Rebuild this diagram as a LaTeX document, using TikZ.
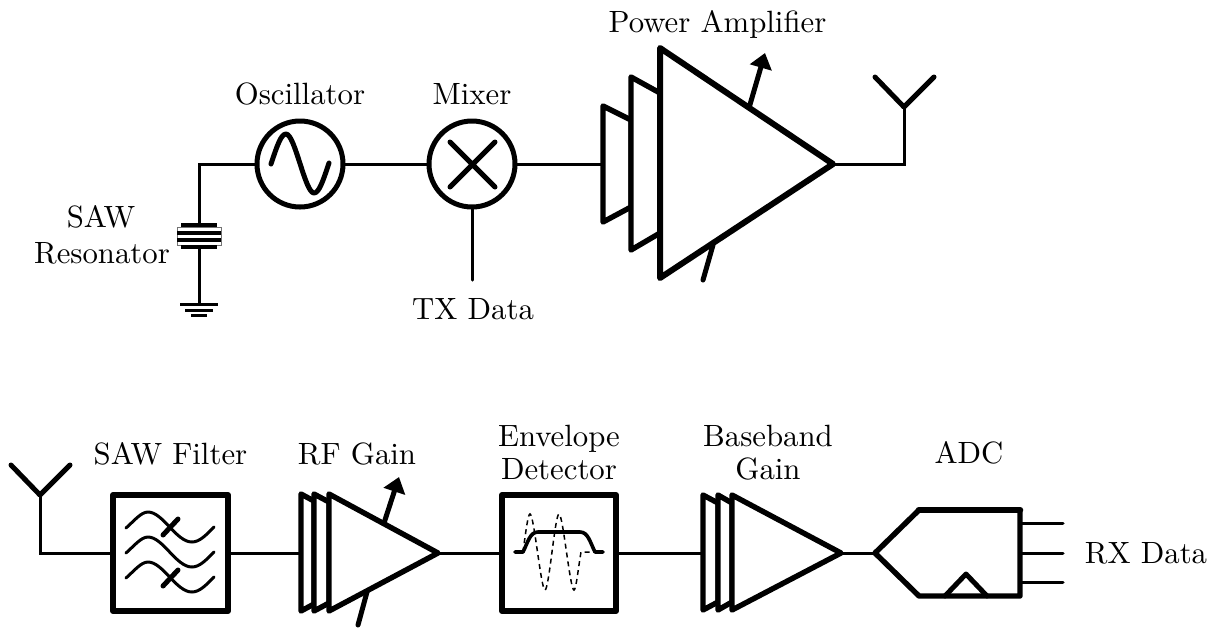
\documentclass[tikz,border=0pt]{standalone}
\usetikzlibrary{arrows.meta}
\newlength{\pxu}\setlength{\pxu}{0.325pt}
\tikzset{
  wire/.style={line width=3\pxu,line cap=round,line join=miter},
  heavy/.style={line width=5\pxu,line cap=round,line join=round},
  stage/.style={line width=5.4\pxu,line cap=round,line join=round,fill=white},
  bigstage/.style={line width=6\pxu,line cap=round,line join=round,fill=white},
  fineline/.style={line width=3\pxu,line cap=round,line join=round},
  roundel/.style={circle,draw,line width=5\pxu,minimum size=86\pxu,inner sep=0pt,outer sep=0pt},
  blockbox/.style={rectangle,draw,line width=6\pxu,line join=round,inner sep=0pt,outer sep=0pt},
  lab/.style={anchor=base,inner sep=0pt,align=center},
  gainarrow/.style={line width=5\pxu,-{Triangle[length=4.9pt,width=7.15pt]}},
  tick/.style={line width=5\pxu,line cap=round},
}
\begin{document}
\begin{tikzpicture}[x=0.325pt,y=-0.325pt]
\useasboundingbox (0,0) rectangle (1218,628);
% ---- top row nodes
\node[roundel] (osc) at (300,164) {};
\node[roundel] (mix) at (472,164) {};
\coordinate (corner) at (199,164);
\coordinate (rtop) at (199,224);
\coordinate (rbot) at (199,247);
\coordinate (gnd) at (199,304);
\coordinate (paA) at (603,164);
\coordinate (paT) at (833,164);
\coordinate (antA) at (904,107);
\coordinate (antAc) at (904,164);
\coordinate (antAl) at (875,77);
\coordinate (antAr) at (934,77);
\coordinate (txend) at (472,280);
\coordinate (paAs) at (749,108);
\coordinate (paAe) at (765,53);
\coordinate (paTs) at (713,245);
\coordinate (paTe) at (703,280);
% wires
\draw[wire] (rtop) -- (corner) -- (osc.west);
\draw[wire] (osc.east) -- (mix.west);
\draw[wire] (mix.east) -- (paA);
\draw[wire] (mix.south) -- (txend);
\draw[wire] (rbot) -- (gnd);
\draw[wire] (paT) -- (antAc) -- (antA);
\draw[heavy] (antAl) -- (antA) -- (antAr);
% oscillator and mixer glyphs
\draw[heavy] (271,164) .. controls (277,146) and (281,134) .. (286,134)
  .. controls (295,134) and (305,193) .. (314,193)
  .. controls (319,193) and (323,181) .. (329,163);
\draw[heavy] (450,142) -- (495,187) (450,187) -- (495,142);
% resonator
\draw[line width=0.8\pxu,draw=black!55,fill=white] (177,227) rectangle (221,245);
\fill (181,223) rectangle (217,227);
\fill (181,245) rectangle (217,249);
\fill (177,230.5) rectangle (221,234.5);
\fill (177,238) rectangle (221,242);
% ground
\draw[line width=3\pxu] (180,304) -- (218,304);
\draw[line width=3\pxu] (185,310) -- (213,310);
\draw[line width=3.4\pxu] (191,315.5) -- (207,315.5);
% power amplifier
\draw[stage] (603,106) -- (631,120) -- (631,207) -- (603,222) -- cycle;
\draw[stage] (631,77) -- (660,93) -- (660,233) -- (631,250) -- cycle;
\draw[bigstage] (660,48) -- (paT) -- (660,278) -- cycle;
\draw[gainarrow] (paAs) -- (paAe);
\draw[tick] (paTs) -- (paTe);
% ---- bottom row nodes
\node[blockbox,minimum width=115\pxu,minimum height=116\pxu] (filt) at (170.5,553) {};
\node[blockbox,minimum width=114\pxu,minimum height=116\pxu] (det) at (559,553) {};
\coordinate (antB) at (40,495);
\coordinate (antBc) at (40,553);
\coordinate (antBl) at (11,465);
\coordinate (antBr) at (70,465);
\coordinate (rfA) at (301,553);
\coordinate (rfT) at (438,553);
\coordinate (bbA) at (703,553);
\coordinate (bbT) at (841,553);
\coordinate (adcT) at (875,553);
\coordinate (adcE) at (1020,553);
\coordinate (rfAs) at (384,523);
\coordinate (rfAe) at (399,477);
\coordinate (rfTs) at (367,592);
\coordinate (rfTe) at (358,625);
\coordinate (o1a) at (1020,523);
\coordinate (o1b) at (1063,523);
\coordinate (o2b) at (1063,553);
\coordinate (o3a) at (1020,582);
\coordinate (o3b) at (1063,582);
% wires
\draw[wire] (antB) -- (antBc) -- (filt.west);
\draw[heavy] (antBl) -- (antB) -- (antBr);
\draw[wire] (filt.east) -- (rfA);
\draw[wire] (rfT) -- (det.west);
\draw[wire] (det.east) -- (bbA);
\draw[wire] (bbT) -- (adcT);
\draw[wire] (o1a) -- (o1b);
\draw[wire] (adcE) -- (o2b);
\draw[wire] (o3a) -- (o3b);
% filter glyphs
\foreach \dy in {-25,0,25}{
  \begin{scope}[shift={(0,\dy)}]
  \draw[fineline] (126,553) .. controls (134,546) and (141,537) .. (148,537)
    .. controls (163,537) and (176,567) .. (192,567)
    .. controls (200,567) and (207,559) .. (214,552);
  \end{scope}
}
\draw[tick] (163,535) -- (178,519);
\draw[tick] (163,586) -- (178,570);
% detector glyphs
\draw[line width=1.5\pxu,dash pattern=on 5\pxu off 4\pxu] (523,552) .. controls (526,530) and (528,514) .. (530,514)
  .. controls (534,514) and (541,590) .. (545,590)
  .. controls (549,590) and (555,514) .. (559,514)
  .. controls (563,514) and (570,590) .. (574,590)
  .. controls (576,590) and (578,570) .. (581,552) -- (595,552);
\draw[line width=3.6\pxu,line cap=round,line join=round] (515,552) -- (523,552)
  .. controls (528,542) and (530,532) .. (538,532) -- (580,532)
  .. controls (588,532) and (590,542) .. (595,552) -- (603,552);
% RF gain
\draw[stage] (301,494) -- (314,501) -- (314,604) -- (301,611) -- cycle;
\draw[stage] (314,494) -- (329,502) -- (329,603) -- (314,611) -- cycle;
\draw[stage] (329,494) -- (rfT) -- (329,611) -- cycle;
\draw[gainarrow] (rfAs) -- (rfAe);
\draw[tick] (rfTs) -- (rfTe);
% baseband gain
\draw[stage] (703,495) -- (718,503) -- (718,602) -- (703,610) -- cycle;
\draw[stage] (718,495) -- (732,503) -- (732,602) -- (718,610) -- cycle;
\draw[stage] (732,495) -- (bbT) -- (732,610) -- cycle;
% ADC
\draw[stage] (adcT) -- (919,510) -- (1020,510) -- (1020,596) -- (919,596) -- cycle;
\draw[line width=6.5\pxu,line cap=round] (919,510) -- (1020,510);
\draw[heavy] (945,596) -- (966,574) -- (987,596);
% ---- labels
\node[lab] (tPA) at (717.5,32) {Power Amplifier};
\node[lab] (tOsc) at (300,104) {Oscillator};
\node[lab] (tMix) at (472,104) {Mixer};
\node[lab] (tTX) at (473,319) {TX Data};
\node[lab] (tSAW1) at (101,227) {SAW};
\node[lab] (tSAW2) at (102,263) {Resonator};
\node[lab] (tFilt) at (170.5,464) {SAW Filter};
\node[lab] (tRF) at (357,464) {RF Gain};
\node[lab] (tEnv1) at (559,446) {Envelope};
\node[lab] (tEnv2) at (559,479) {Detector};
\node[lab] (tBB1) at (768,446) {Baseband};
\node[lab] (tBB2) at (768,479) {Gain};
\node[lab] (tADC) at (969,463) {ADC};
\node[lab] (tRX) at (1146,563) {RX Data};
\end{tikzpicture}
\end{document}
